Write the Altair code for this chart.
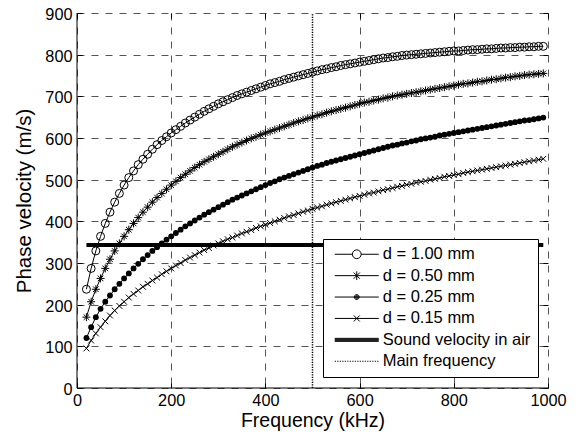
import altair as alt
import pandas as pd

# ---------------- data ----------------
freq = list(range(20, 1000, 10))  # kHz, sampling grid of the curves

v_100 = [237, 287, 329, 364, 395, 422, 446, 467, 487, 505,
         521, 536, 549, 561, 573, 584, 594, 603, 612, 620,
         628, 636, 643, 650, 657, 664, 670, 676, 682, 687,
         692, 697, 702, 706, 710, 714, 718, 722, 726, 730,
         733, 736, 740, 743, 746, 749, 752, 755, 758, 761,
         764, 766, 769, 771, 774, 776, 778, 780, 782, 784,
         786, 788, 790, 792, 793, 795, 796, 798, 799, 800,
         801, 802, 803, 804, 805, 806, 807, 808, 809, 809,
         810, 811, 812, 812, 813, 814, 814, 815, 816, 816,
         817, 817, 818, 818, 819, 819, 820, 820]

v_050 = [170, 207, 237, 263, 287, 309, 329, 347, 364, 380,
         395, 409, 422, 434, 446, 457, 467, 477, 487, 496,
         505, 513, 521, 529, 536, 543, 549, 555, 561, 567,
         573, 579, 584, 589, 594, 599, 603, 608, 612, 616,
         620, 624, 628, 632, 636, 640, 643, 647, 650, 654,
         657, 661, 664, 667, 670, 673, 676, 679, 682, 685,
         687, 690, 692, 695, 697, 700, 702, 704, 706, 708,
         710, 712, 714, 716, 718, 720, 722, 724, 726, 728,
         730, 731, 733, 735, 736, 738, 740, 741, 743, 745,
         746, 748, 749, 751, 752, 753, 754, 755]

v_025 = [120, 146, 170, 190, 207, 222, 237, 250, 263, 275,
         287, 298, 309, 319, 329, 338, 347, 356, 364, 372,
         380, 388, 395, 402, 409, 416, 422, 428, 434, 440,
         446, 452, 457, 462, 467, 472, 477, 482, 487, 492,
         496, 501, 505, 509, 513, 517, 521, 525, 529, 533,
         536, 540, 543, 546, 549, 552, 555, 558, 561, 564,
         567, 570, 573, 576, 579, 582, 584, 587, 589, 592,
         594, 597, 599, 601, 603, 606, 608, 610, 612, 614,
         616, 618, 620, 622, 624, 626, 628, 630, 632, 634,
         636, 638, 640, 642, 643, 645, 647, 649]

v_015 = [95, 114, 131, 146, 160, 174, 186, 197, 207, 217,
         226, 234, 243, 250, 258, 265, 273, 280, 287, 294,
         300, 307, 313, 319, 325, 331, 336, 342, 347, 352,
         357, 361, 366, 371, 375, 379, 384, 388, 392, 396,
         400, 404, 408, 412, 415, 419, 423, 426, 430, 433,
         436, 440, 443, 446, 449, 452, 455, 458, 461, 464,
         467, 469, 472, 475, 477, 480, 483, 485, 488, 490,
         493, 495, 497, 500, 502, 504, 507, 509, 511, 513,
         516, 518, 520, 522, 524, 526, 528, 530, 532, 534,
         536, 538, 540, 542, 544, 546, 548, 550]

sound_f = [20, 990]
sound_v = [343, 343]
main_f = [500]
main_v = [0]
main_v2 = [900]

labels = ["d = 1.00 mm", "d = 0.50 mm", "d = 0.25 mm", "d = 0.15 mm",
          "Sound velocity in air", "Main frequency"]

x_ticks = [0, 200, 400, 600, 800, 1000]
y_ticks = [0, 100, 200, 300, 400, 500, 600, 700, 800, 900]

# ---------------- styling ----------------
FONT = "Arial"
W, H = 471, 375
xs = alt.Scale(domain=[0, 1000], nice=False, zero=False)
ys = alt.Scale(domain=[0, 900], nice=False, zero=False)

GRID = dict(grid=True, gridColor="#555555", gridDash=[7, 7], gridWidth=1)
TICKS = dict(ticks=True, tickSize=5, tickColor="black", tickWidth=1, domain=False, offset=-5)

x_axis_main = alt.Axis(values=x_ticks, format="d", title="Frequency (kHz)", titleFont=FONT,
                       titleFontSize=19.5, titleFontWeight="normal", titleColor="black",
                       titleBaseline="alphabetic", titleY=43,
                       labelFont=FONT, labelFontSize=16.3, labelColor="black",
                       labelPadding=4, labelFlush=False, **GRID, **TICKS)
y_axis_main = alt.Axis(values=y_ticks, format="d", title="Phase velocity (m/s)", titleFont=FONT,
                       titleFontSize=20.5, titleFontWeight="normal", titleColor="black",
                       titleBaseline="alphabetic", titleX=-51.3,
                       labelFont=FONT, labelFontSize=16.3, labelColor="black",
                       labelPadding=5, labelOffset=1.5, **GRID, **TICKS)
x_axis_top = alt.Axis(orient="top", values=x_ticks, labels=False, title=None, grid=False, **TICKS)
y_axis_right = alt.Axis(orient="right", values=y_ticks, labels=False, title=None, grid=False, **TICKS)


def df_of(vals):
    return pd.DataFrame({"f": freq[:len(vals)], "v": vals[:len(freq)]})


# marker shapes (unit paths)
STAR = "M0,-1V1M-1,0H1M-0.7,-0.7L0.7,0.7M-0.7,0.7L0.7,-0.7"
XMARK = "M-1,-1L1,1M-1,1L1,-1"

# legend symbol paths (line + marker)
p_circle = "M-4,0H-0.8M0.8,0H4M0.8,0A0.8,0.8 0 1,1 -0.8,0A0.8,0.8 0 1,1 0.8,0Z"
p_star = "M-4,0H4M0,-0.8V0.8M-0.57,-0.57L0.57,0.57M-0.57,0.57L0.57,-0.57"
p_dot = ("M-4,0H4M0.45,0A0.45,0.45 0 1,1 -0.45,0A0.45,0.45 0 1,1 0.45,0"
         "M0.28,0A0.28,0.28 0 1,1 -0.28,0A0.28,0.28 0 1,1 0.28,0"
         "M0.12,0A0.12,0.12 0 1,1 -0.12,0A0.12,0.12 0 1,1 0.12,0")
p_x = "M-4,0H4M-0.55,-0.55L0.55,0.55M-0.55,0.55L0.55,-0.55"
p_thick = "M-4,-0.273H4M-4,-0.091H4M-4,0.091H4M-4,0.273H4"
p_dotted = "".join(f"M{-4 + 0.4545 * i:.3f},0H{-4 + 0.4545 * i + 0.218:.3f}" for i in range(18))
legend_paths = [p_circle, p_star, p_dot, p_x, p_thick, p_dotted]

layers = []

# axis lines (left and bottom)
left_df = pd.DataFrame({"x": [0], "y": [0], "y2": [900]})
bottom_df = pd.DataFrame({"x": [0], "x2": [1000], "y": [0]})
layers.append(alt.Chart(left_df).mark_rule(color="black", strokeWidth=1).encode(
    x=alt.X("x:Q", scale=xs, axis=x_axis_main),
    y=alt.Y("y:Q", scale=ys, axis=y_axis_main), y2="y2:Q"))
layers.append(alt.Chart(bottom_df).mark_rule(color="black", strokeWidth=1).encode(
    x=alt.X("x:Q", scale=xs, axis=x_axis_top), x2="x2:Q",
    y=alt.Y("y:Q", scale=ys, axis=y_axis_right)))

# sound velocity line
layers.append(alt.Chart(pd.DataFrame({"f": sound_f, "v": sound_v})).mark_line(
    color="black", strokeWidth=4, strokeCap="butt").encode(
    x=alt.X("f:Q", scale=xs, axis=None), y=alt.Y("v:Q", scale=ys, axis=None)))

# main frequency
layers.append(alt.Chart(pd.DataFrame({"f": main_f, "v": main_v, "v2": main_v2})).mark_rule(
    color="black", strokeWidth=1.5, strokeDash=[1.2, 1.3]).encode(
    x=alt.X("f:Q", scale=xs, axis=None), y=alt.Y("v:Q", scale=ys, axis=None), y2="v2:Q"))

series = [
    (v_100, dict(shape="circle", filled=False, size=64)),
    (v_050, dict(shape=STAR, filled=False, size=64)),
    (v_025, dict(shape="circle", filled=True, size=34)),
    (v_015, dict(shape=XMARK, filled=False, size=34)),
]
for vals, mk in series:
    d = df_of(vals)
    base = alt.Chart(d).encode(x=alt.X("f:Q", scale=xs, axis=None),
                               y=alt.Y("v:Q", scale=ys, axis=None))
    layers.append(base.mark_line(color="black", strokeWidth=1))
    layers.append(base.mark_point(color="black", strokeWidth=1, opacity=1, **mk))

# legend layer (invisible marks, visible legend)
layers.append(alt.Chart(pd.DataFrame({"series": labels})).mark_point(
    filled=False, color="black", size=121, opacity=0, strokeWidth=1).encode(
    x=alt.value(0), y=alt.value(0),
    shape=alt.Shape("series:N", sort=labels,
                    scale=alt.Scale(domain=labels, range=legend_paths),
                    legend=alt.Legend(title=None, orient="none", legendX=246, legendY=226,
                                      fillColor="white", strokeColor="black", padding=7,
                                      cornerRadius=0, labelFont=FONT, labelFontSize=16.5,
                                      labelColor="black", labelLimit=400, labelOffset=17.7,
                                      symbolOffset=18.5, symbolSize=121, symbolStrokeWidth=1,
                                      symbolStrokeColor="black", symbolFillColor="transparent",
                                      symbolOpacity=1, rowPadding=4.4))))

chart = alt.layer(*layers).resolve_axis(x="independent", y="independent").properties(
    width=W, height=H,
    autosize=alt.AutoSizeParams(type="none"),
    padding={"left": 69, "top": 5, "right": 26, "bottom": 50},
    background="white",
).configure_view(stroke=None)

chart.save("out.html", embed_options={"renderer": "svg", "actions": False})
